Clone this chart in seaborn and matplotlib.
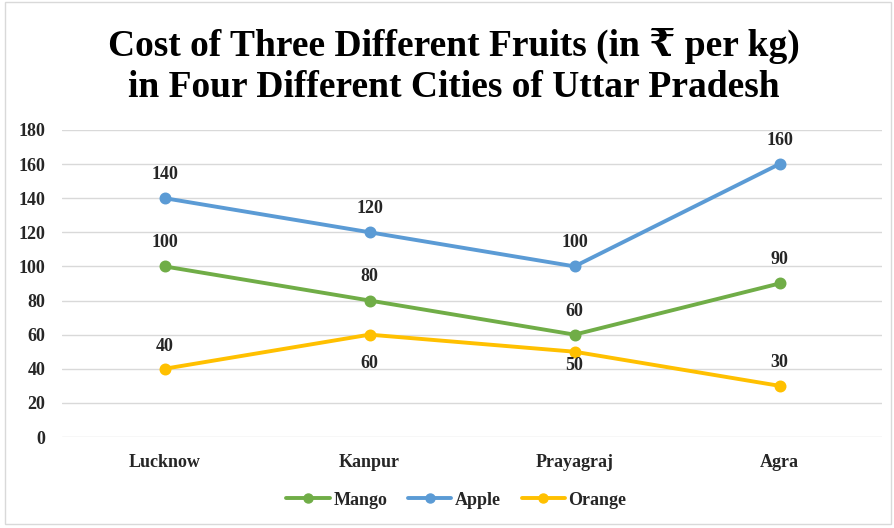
import matplotlib.pyplot as plt
import seaborn as sns
import pandas as pd
from matplotlib.patches import Rectangle

# Chart data
cities = ['Lucknow', 'Kanpur', 'Prayagraj', 'Agra']
mango = [100, 80, 60, 90]
apple = [140, 120, 100, 160]
orange = [40, 60, 50, 30]
fruits = ['Mango', 'Apple', 'Orange']
colors = ['#70AD47', '#5B9BD5', '#FFC000']
# vertical offset of the orange labels, in points (others sit above)
orange_label_offset = [16, -21, -10, 17]

SERIF = ['Liberation Serif', 'DejaVu Serif']


def build_frame():
    rows = []
    for fruit, vals in zip(fruits, [mango, apple, orange]):
        for city, v in zip(cities, vals):
            rows.append({'City': city, 'Cost': v, 'Fruit': fruit})
    return pd.DataFrame(rows)


def main():
    sns.set_style('white')
    plt.rcParams['font.family'] = SERIF
    plt.rcParams['font.weight'] = 'bold'

    df = build_frame()
    fig = plt.figure(figsize=(8.95, 5.28), dpi=100)
    ax = fig.add_axes([0.0693, 0.1723, 0.9162, 0.5817])

    sns.pointplot(data=df, x='City', y='Cost', hue='Fruit', order=cities,
                  hue_order=fruits, palette=colors, markers='o',
                  linewidth=2.8, markersize=6.5, ax=ax, legend=False)

    ax.set_ylim(0, 180)
    ax.set_xlim(-0.5, 3.5)
    ax.set_yticks(range(0, 181, 20))
    ax.yaxis.grid(True, color='#D9D9D9', linewidth=1)
    ax.set_axisbelow(True)
    for s in ax.spines.values():
        s.set_visible(False)
    ax.set_xlabel('')
    ax.set_ylabel('')
    ax.tick_params(axis='y', length=0, labelsize=13, pad=12)
    ax.tick_params(axis='x', length=0, labelsize=13, pad=12)
    for lab in ax.get_xticklabels() + ax.get_yticklabels():
        lab.set_fontweight('bold')
        lab.set_color('#262626')

    # data labels
    for fruit, vals in zip(fruits, [mango, apple, orange]):
        for i, v in enumerate(vals):
            off = 17
            if fruit == 'Orange':
                off = orange_label_offset[i]
            ax.annotate(str(v), (i, v), xytext=(0, off), textcoords='offset points',
                        ha='center', va='center', fontsize=13, fontweight='bold',
                        color='#262626')

    # legend
    handles = [plt.Line2D([0], [0], color=c, marker='o', linewidth=2.8, markersize=6.5)
               for c in colors]
    fig.legend(handles, fruits, loc='center', bbox_to_anchor=(0.51, 0.053), ncol=3,
               frameon=False, prop={'family': SERIF, 'weight': 'bold', 'size': 13},
               handlelength=2.4, handletextpad=0.2, columnspacing=1.15)

    fig.text(0.507, 0.874, 'Cost of Three Different Fruits (in \u20b9 per kg)\n'
             'in Four Different Cities of Uttar Pradesh',
             ha='center', va='center', fontsize=27, fontweight='bold',
             linespacing=1.2, color='black', family=SERIF)

    fig.patches.append(Rectangle((0.006, 0.008), 0.99, 0.988, transform=fig.transFigure,
                                 fill=False, edgecolor='#D9D9D9', linewidth=1))

    fig.savefig('out.png', dpi=100)
    plt.close(fig)


if __name__ == '__main__':
    main()
